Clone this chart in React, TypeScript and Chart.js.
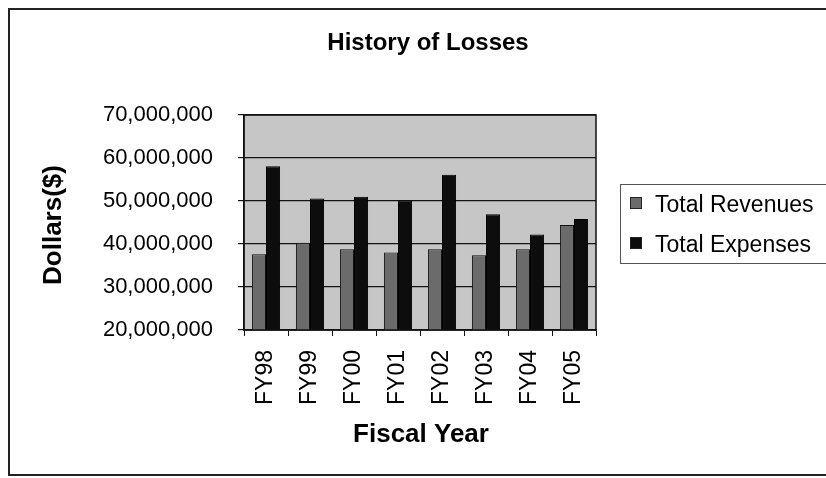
import React, { useEffect, useRef } from "react";
import { Chart, registerables } from "chart.js";

Chart.register(...registerables);

// Fiscal years and the yearly totals in dollars
const categories = ["FY98", "FY99", "FY00", "FY01", "FY02", "FY03", "FY04", "FY05"];
const totalRevenues = [37600000, 40300000, 38800000, 38000000, 38800000, 37400000, 38800000, 44400000];
const totalExpenses = [58100000, 50600000, 51000000, 50100000, 56100000, 46900000, 42200000, 45800000];

const seriesLabels = ["Total Revenues", "Total Expenses"];
const yMin = 20000000;
const yMax = 70000000;
const yStep = 10000000;

const chartTitle = "History of Losses";
const yTitle = "Dollars($)";
const xTitle = "Fiscal Year";

const FONT = "'Liberation Sans', Arial, Helvetica, sans-serif";

const framePlugin = {
  id: "frame",
  beforeDraw(chart: any) {
    const { ctx, chartArea: a } = chart;
    ctx.save();
    ctx.fillStyle = "#ffffff";
    ctx.fillRect(0, 0, chart.width, chart.height);
    // outer chart border
    ctx.strokeStyle = "#222222";
    ctx.lineWidth = 2;
    ctx.strokeRect(9, 9, chart.width + 20, 466);
    // plot area fill
    ctx.fillStyle = "#c6c6c6";
    ctx.fillRect(a.left, a.top, a.right - a.left, a.bottom - a.top);
    ctx.restore();
  },
  afterDraw(chart: any) {
    const { ctx, chartArea: a } = chart;
    ctx.save();
    // plot area border
    ctx.strokeStyle = "#111111";
    ctx.lineWidth = 1.5;
    ctx.strokeRect(a.left, a.top, a.right - a.left, a.bottom - a.top);

    // chart title
    ctx.fillStyle = "#000000";
    ctx.textAlign = "center";
    ctx.textBaseline = "alphabetic";
    ctx.font = `bold 24px ${FONT}`;
    ctx.fillText(chartTitle, 428, 50);

    // x axis title
    ctx.font = `bold 26px ${FONT}`;
    ctx.fillText(xTitle, 421, 442);

    // y axis title
    ctx.save();
    ctx.translate(54, 225);
    ctx.rotate(-Math.PI / 2);
    ctx.textBaseline = "middle";
    ctx.fillText(yTitle, 0, 0);
    ctx.restore();

    // legend
    const lx = 620;
    const ly = 184;
    ctx.strokeStyle = "#555555";
    ctx.lineWidth = 1;
    ctx.strokeRect(lx + 0.5, ly + 0.5, 240, 79);
    ctx.font = `23px ${FONT}`;
    ctx.textAlign = "left";
    ctx.textBaseline = "alphabetic";
    chart.data.datasets.forEach((ds: any, i: number) => {
      const sy = 197 + i * 40;
      ctx.fillStyle = ds.backgroundColor;
      ctx.fillRect(630, sy, 12, 12);
      ctx.strokeStyle = "#222222";
      ctx.strokeRect(630.5, sy + 0.5, 11, 11);
      ctx.fillStyle = "#000000";
      ctx.fillText(ds.label, 655, sy + 15);
    });
    ctx.restore();
  },
};

export default function App() {
  const ref = useRef<HTMLCanvasElement | null>(null);

  useEffect(() => {
    if (!ref.current) return;
    const chart = new Chart(ref.current, {
      type: "bar",
      data: {
        labels: categories,
        datasets: [
          {
            label: seriesLabels[0],
            data: totalRevenues,
            backgroundColor: "#6b6b6b",
            borderColor: "#111111",
            borderWidth: 1,
            categoryPercentage: 0.64,
            barPercentage: 1.0,
          },
          {
            label: seriesLabels[1],
            data: totalExpenses,
            backgroundColor: "#0d0d0d",
            borderColor: "#000000",
            borderWidth: 1,
            categoryPercentage: 0.64,
            barPercentage: 1.0,
          },
        ],
      },
      options: {
        animation: false,
        responsive: false,
        maintainAspectRatio: false,
        layout: { padding: { top: 115, right: 230, bottom: 0, left: 0 } },
        plugins: {
          legend: { display: false },
          title: { display: false },
          tooltip: { enabled: false },
        },
        scales: {
          x: {
            grid: {
              offset: true,
              drawOnChartArea: false,
              drawTicks: true,
              tickLength: 6,
              color: "#111111",
              lineWidth: 1,
            },
            border: { display: true, color: "#111111", width: 1.5 },
            ticks: {
              color: "#000000",
              font: { family: FONT, size: 23 },
              minRotation: 90,
              maxRotation: 90,
              autoSkip: false,
              padding: 14,
            },
            afterFit(scale: any) {
              scale.height = 148;
            },
          },
          y: {
            min: yMin,
            max: yMax,
            grid: {
              drawOnChartArea: true,
              drawTicks: true,
              tickLength: 6,
              color: "#141414",
              lineWidth: 1.2,
            },
            border: { display: true, color: "#111111", width: 1.5 },
            ticks: {
              stepSize: yStep,
              color: "#000000",
              font: { family: FONT, size: 22 },
              padding: 25,
              callback: (v: any) => Number(v).toLocaleString("en-US"),
            },
            afterFit(scale: any) {
              scale.width = 244;
            },
          },
        },
      },
      plugins: [framePlugin],
    });
    return () => chart.destroy();
  }, []);

  return (
    <div style={{ position: "absolute", left: 0, top: 0, width: 826, height: 478 }}>
      <canvas ref={ref} width={826} height={478} style={{ display: "block" }} />
    </div>
  );
}
